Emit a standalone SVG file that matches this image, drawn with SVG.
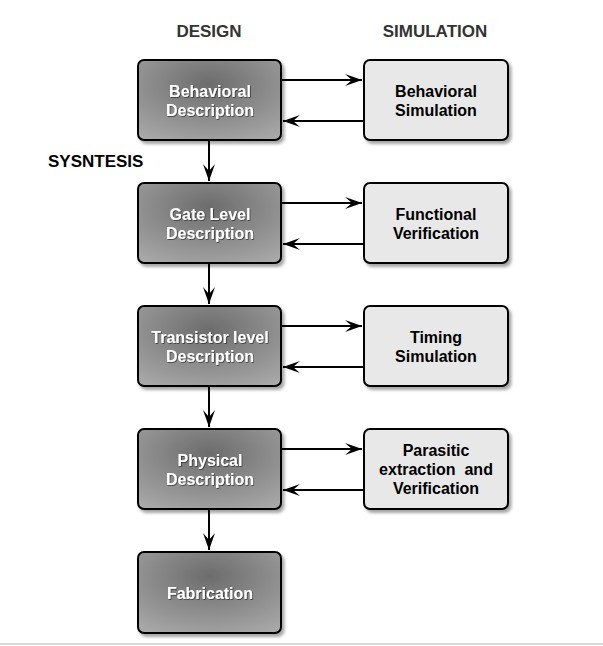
<svg xmlns="http://www.w3.org/2000/svg" width="603" height="646" viewBox="0 0 603 646">
  <defs>
    <radialGradient id="dark" cx="0.5" cy="0.3" r="0.8">
      <stop offset="0" stop-color="#6c6c6c"/>
      <stop offset="1" stop-color="#a8a8a8"/>
    </radialGradient>
    <filter id="shadow" x="-10%" y="-10%" width="130%" height="130%">
      <feDropShadow dx="2.5" dy="3" stdDeviation="1.5" flood-color="#000" flood-opacity="0.35"/>
    </filter>
    <filter id="tshadow" x="-10%" y="-20%" width="120%" height="150%">
      <feDropShadow dx="0.8" dy="0.8" stdDeviation="0.5" flood-color="#000" flood-opacity="0.6"/>
    </filter>
    <marker id="arr" markerUnits="userSpaceOnUse" markerWidth="20" markerHeight="14" viewBox="-17 -7 18 14" refX="0" refY="0" orient="auto">
      <path d="M0,0 L-17,-6 L-10,0 L-17,6 Z" fill="#000"/>
    </marker>
    <style>
      .dark rect { fill: url(#dark); stroke: #000; stroke-width: 2; filter: url(#shadow); }
      .light rect { fill: #e8e8e8; stroke: #000; stroke-width: 2; filter: url(#shadow); }
      .dark text { fill: #fff; font-family: "Liberation Sans", Arial, sans-serif; font-weight: bold; font-size: 16px; text-anchor: middle; filter: url(#tshadow); }
      .light text { fill: #000; font-family: "Liberation Sans", Arial, sans-serif; font-weight: bold; font-size: 16px; text-anchor: middle; white-space: pre; }
      .hdr { fill: #333; font-family: "Liberation Sans", Arial, sans-serif; font-weight: bold; font-size: 17px; }
      .conn line { stroke: #000; stroke-width: 2; marker-end: url(#arr); }
    </style>
  </defs>
  <rect width="603" height="646" fill="#fff"/>
  <line x1="0" y1="644" x2="603" y2="644" stroke="#b0b0b0" stroke-width="1"/>

  <text class="hdr" x="209" y="37" text-anchor="middle">DESIGN</text>
  <text class="hdr" x="435" y="37" text-anchor="middle">SIMULATION</text>
  <text class="hdr" x="48" y="167" style="fill:#000">SYSNTESIS</text>

  <g id="behavioral-description" class="dark">
    <rect x="138" y="60" width="143" height="80" rx="6"/>
    <text x="210" y="97">Behavioral</text>
    <text x="210" y="116">Description</text>
  </g>
  <g id="gate-level-description" class="dark">
    <rect x="138" y="183" width="143" height="80" rx="6"/>
    <text x="210" y="220">Gate Level</text>
    <text x="210" y="239">Description</text>
  </g>
  <g id="transistor-level-description" class="dark">
    <rect x="138" y="306" width="143" height="80" rx="6"/>
    <text x="210" y="343">Transistor level</text>
    <text x="210" y="362">Description</text>
  </g>
  <g id="physical-description" class="dark">
    <rect x="138" y="429" width="143" height="80" rx="6"/>
    <text x="210" y="466">Physical</text>
    <text x="210" y="485">Description</text>
  </g>
  <g id="fabrication" class="dark">
    <rect x="138" y="552" width="143" height="81" rx="6"/>
    <text x="210" y="599">Fabrication</text>
  </g>

  <g id="behavioral-simulation" class="light">
    <rect x="364" y="60" width="144" height="80" rx="6"/>
    <text x="436" y="97">Behavioral</text>
    <text x="436" y="116">Simulation</text>
  </g>
  <g id="functional-verification" class="light">
    <rect x="364" y="183" width="144" height="80" rx="6"/>
    <text x="436" y="220">Functional</text>
    <text x="436" y="239">Verification</text>
  </g>
  <g id="timing-simulation" class="light">
    <rect x="364" y="306" width="144" height="80" rx="6"/>
    <text x="436" y="343">Timing</text>
    <text x="436" y="362">Simulation</text>
  </g>
  <g id="parasitic-extraction" class="light">
    <rect x="364" y="429" width="144" height="80" rx="6"/>
    <text x="436" y="456">Parasitic</text>
    <text x="436" y="475" xml:space="preserve">extraction  and</text>
    <text x="436" y="494">Verification</text>
  </g>

  <g id="connectors" class="conn">
    <line x1="282" y1="80" x2="362" y2="80"/>
    <line x1="363" y1="121" x2="283" y2="121"/>
    <line x1="282" y1="203" x2="362" y2="203"/>
    <line x1="363" y1="244" x2="283" y2="244"/>
    <line x1="282" y1="326" x2="362" y2="326"/>
    <line x1="363" y1="367" x2="283" y2="367"/>
    <line x1="282" y1="449" x2="362" y2="449"/>
    <line x1="363" y1="490" x2="283" y2="490"/>
    <line x1="209" y1="141" x2="209" y2="181"/>
    <line x1="209" y1="264" x2="209" y2="304"/>
    <line x1="209" y1="387" x2="209" y2="427"/>
    <line x1="209" y1="510" x2="209" y2="550"/>
  </g>
</svg>
